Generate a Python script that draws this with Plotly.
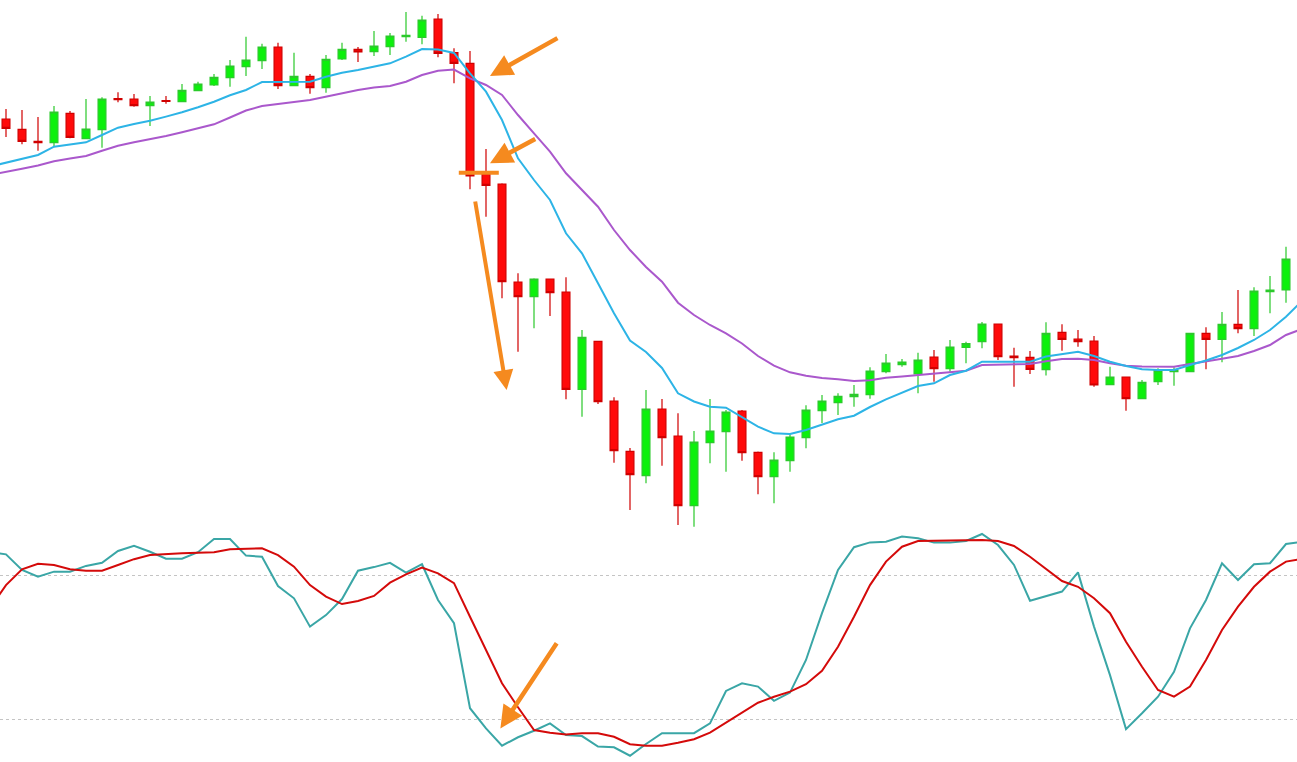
import plotly.graph_objects as go

# ---------------- data ----------------
candle_idx = list(range(81))

opens = [481, 470.7, 458.7, 457.3, 486.7, 461.3, 470.3, 501.3, 501, 494.3,
         499.3, 498.3, 509.3, 515, 522.3, 533.3, 539.3, 553, 514.3, 523.7,
         512.3, 541, 550.7, 548.3, 553.3, 563.3, 562.7, 581, 547.3, 536.7,
         426, 416, 318, 303.3, 321, 308, 210.7, 258.7, 199, 148.7,
         124.3, 191, 164, 94.3, 157.3, 168.3, 189, 147.7, 123.3, 139.3,
         162.3, 189.3, 197.3, 203.3, 205.3, 228.3, 235.3, 226, 243, 231.3,
         252.7, 258.3, 276, 244, 242.7, 230.3, 267.7, 261, 259, 215.3,
         223, 201.3, 218.3, 228.3, 228.3, 266.7, 260.7, 275.7, 271.3, 308.3, 310]

highs = [491, 490, 483, 494, 489, 501, 502.7, 507.7, 506, 504,
         504, 516, 518.3, 526, 540, 563.3, 556.3, 557.3, 547.3, 526,
         545, 557.3, 553, 569, 567, 588, 584.3, 586, 551.7, 549,
         451, 416.7, 326.7, 321.7, 321, 322.7, 270, 258.7, 202.7, 152,
         210, 201, 186.7, 169, 201, 190, 190, 148.5, 147.7, 165.7,
         194.7, 205, 206.7, 215, 232.7, 246, 241, 247.3, 250, 260,
         258.3, 278, 276.5, 252.3, 249, 277.8, 275.7, 270, 264, 233.3,
         223, 220, 231.7, 232.7, 266.7, 272.7, 288, 310, 312.7, 324, 353.3]

lows = [463, 455.7, 449.3, 453.3, 461.7, 461, 452.3, 497.7, 493.3, 474,
        496.3, 497.7, 509.3, 514, 513.3, 524, 531, 511, 514, 506.3,
        507.3, 540, 538, 544, 545, 558.3, 555.7, 542.7, 516.7, 410.7,
        383.3, 301.7, 248.3, 271.7, 284, 200.7, 183.3, 196, 137.3, 90,
        116.7, 134.3, 75, 73.3, 136.7, 128.3, 139.3, 105.7, 96.7, 128.3,
        151.7, 177, 185, 193.3, 201.3, 226.7, 233.3, 206.7, 218.3, 228.3,
        236.7, 251.7, 240, 213.3, 226, 224.5, 249.3, 253.3, 213.3, 215.3,
        189.3, 200.7, 215, 214.3, 228.3, 230.7, 237.7, 266.7, 264, 286.7, 297.3]

closes = [471.7, 458.7, 457.3, 488, 462.7, 471, 501, 500.3, 494.3, 498,
          498.7, 509.7, 516, 522.7, 534, 540, 553, 514.3, 523.7, 512.3,
          540.7, 550.7, 548, 554, 564, 564.7, 580, 546.7, 536.7, 424,
          414.7, 318.3, 303.3, 321, 307.3, 210.7, 262.7, 198.3, 149.3, 125.3,
          191, 162.3, 94.3, 158, 169, 188, 147.3, 123.3, 140, 163,
          190, 199, 203.7, 205.7, 229, 237, 238, 240, 231.3, 253,
          256.3, 276, 243.3, 242.3, 230.7, 266.7, 260.7, 258.3, 215, 223,
          201.3, 217.7, 229.7, 230, 266.7, 260.7, 275.7, 271.3, 309, 310, 341]

# indicator lines run one bar beyond each edge of the view
line_idx = list(range(-1, 82))

ma_fast = [433.5, 437.5, 441.2, 445, 453.3, 455.6, 457.7, 465, 472.3, 476, 479.3,
           483.4, 487.7, 492.8, 498.3, 504.7, 510, 518, 518.3, 518.3, 518.3,
           523.3, 527.2, 530, 533.3, 536.7, 543.3, 551, 550.5, 547, 526.7,
           508.3, 480, 441.7, 420, 400, 366.7, 346.7, 316.7, 286.7, 259.5,
           248, 232, 206.7, 198.5, 193.3, 192.3, 182.7, 173.3, 166.7, 166,
           170, 175.5, 180.7, 184.3, 193, 200.7, 207.3, 214, 216.7, 225,
           229.3, 238.3, 238.3, 238.3, 238.3, 243.5, 246, 248.3, 244, 238.3,
           234, 230.7, 230, 230, 235, 239.5, 245, 252, 260, 270, 283.3, 299]

ma_slow = [425, 428.5, 431.3, 434.5, 438.7, 441.5, 444, 449.3, 454.3, 457.7, 460.7,
           464, 467.7, 471.5, 475.7, 482.5, 489.5, 494, 495.7, 498, 500,
           503.3, 506.7, 510, 512.5, 514, 518.3, 525, 529.3, 530.5, 521.7,
           515, 505, 485, 466.7, 448.3, 426.7, 410, 393.3, 370, 350,
           333, 318.3, 297.3, 285, 275, 266.7, 256.5, 244, 234.3, 227.7,
           224.3, 222, 220.7, 219, 219.7, 222.3, 223.5, 225, 226.5, 228,
           229.3, 235, 235.5, 236, 236, 238.7, 241, 241.3, 240, 236.7,
           234.3, 233.5, 233.3, 233.3, 236, 239, 241.3, 244, 249, 255, 265, 271]

stoch_k = [89.8, 88.8, 82.3, 79.5, 81.6, 81.6, 84.0, 85.3, 90.2, 92.4, 89.9,
           87.0, 87.0, 89.7, 95.2, 95.2, 88.3, 87.8, 75.6, 70.5, 58.7,
           63.5, 70.2, 82.0, 83.5, 85.3, 81.2, 84.7, 69.8, 60.1, 24.7,
           16.3, 9.1, 12.6, 15.3, 18.4, 13.5, 13.1, 8.7, 8.4, 4.9,
           9.8, 14.3, 14.3, 14.3, 18.4, 31.9, 35.1, 33.7, 27.8, 31.2,
           44.8, 64.3, 82.3, 91.8, 93.8, 94.1, 96.2, 95.5, 93.7, 93.7,
           94.4, 97.3, 92.7, 84.4, 69.5, 71.5, 73.3, 81.3, 58.7, 38.5,
           16.0, 22.6, 29.5, 39.9, 58.0, 69.8, 85.1, 78.1, 84.7, 85.1, 93.1, 94.0]

stoch_d = [66.5, 76.0, 82.6, 84.9, 84.4, 82.6, 82.0, 82.0, 84.4, 86.8, 88.5,
           89.0, 89.3, 89.5, 89.7, 90.9, 91.0, 91.3, 88.5, 83.7, 76.0,
           71.2, 68.1, 69.4, 71.5, 77.0, 80.5, 83.3, 80.9, 76.8, 62.8,
           49.0, 35.1, 25.1, 15.6, 14.5, 13.8, 14.3, 14.3, 12.8, 9.7,
           9.1, 9.1, 10.3, 11.8, 14.5, 18.7, 22.8, 27.0, 29.5, 31.6,
           34.7, 40.3, 50.3, 62.8, 76.0, 85.8, 92.0, 94.4, 94.5, 94.5,
           94.5, 94.8, 94.4, 92.3, 87.8, 82.6, 77.7, 75.3, 70.5, 64.3,
           52.4, 42.0, 32.3, 29.5, 33.7, 44.8, 57.3, 67.0, 75.3, 81.6, 85.8, 86.9]

stoch_levels = [80, 20]

# ---------------- styles ----------------
UP_FILL, UP_LINE = "#0CF00C", "#2BC92B"
DN_FILL, DN_LINE = "#FF0A0A", "#D00000"
FAST_C, SLOW_C = "#2DB4E6", "#AA58CC"
K_C, D_C = "#3AA6A6", "#D40A0A"
ARROW_C = "#F58A1F"

fig = go.Figure()

fig.add_trace(go.Candlestick(
    x=candle_idx, open=opens, high=highs, low=lows, close=closes,
    increasing=dict(fillcolor=UP_FILL, line=dict(color=UP_LINE, width=1.2)),
    decreasing=dict(fillcolor=DN_FILL, line=dict(color=DN_LINE, width=1.2)),
    whiskerwidth=0, xaxis="x", yaxis="y", hoverinfo="skip"))

fig.add_trace(go.Scatter(x=line_idx, y=ma_slow, mode="lines",
                         line=dict(color=SLOW_C, width=2), xaxis="x", yaxis="y"))
fig.add_trace(go.Scatter(x=line_idx, y=ma_fast, mode="lines",
                         line=dict(color=FAST_C, width=2), xaxis="x", yaxis="y"))

fig.add_trace(go.Scatter(x=line_idx, y=stoch_k, mode="lines",
                         line=dict(color=K_C, width=2), xaxis="x2", yaxis="y2"))
fig.add_trace(go.Scatter(x=line_idx, y=stoch_d, mode="lines",
                         line=dict(color=D_C, width=2), xaxis="x2", yaxis="y2"))

shapes = []
for lv in stoch_levels:
    shapes.append(dict(type="line", xref="paper", x0=0, x1=1, yref="y2", y0=lv, y1=lv,
                       line=dict(color="#C4C4C4", width=1, dash="3px,3px"), layer="below"))
# short horizontal marker under the big bearish bar
shapes.append(dict(type="line", xref="x", yref="y", x0=28.3, x1=30.8, y0=427.3, y1=427.3,
                   line=dict(color=ARROW_C, width=4)))

def arrow(tail, tip, yref="y", width=4.5):
    return dict(x=tip[0], y=tip[1], ax=tail[0], ay=tail[1], xref="x", yref=yref,
                axref="x", ayref=yref, text="", showarrow=True, arrowhead=2,
                arrowsize=1, arrowwidth=width, arrowcolor=ARROW_C, standoff=0)

annotations = [
    arrow((34.56, 562.7), (30.25, 524.0)),
    arrow((33.17, 461.7), (30.25, 436.7)),
    arrow((29.31, 400.0), (31.29, 210.0), width=4),
    arrow((34.48, 52.4), (30.9, 16.3), yref="y2"),
]

xr = [-0.375, 80.6875]
split = (762 - 530) / 762
fig.update_layout(
    width=1297, height=762, margin=dict(l=0, r=0, t=0, b=0),
    paper_bgcolor="white", plot_bgcolor="white", showlegend=False, hovermode=False,
    xaxis=dict(domain=[0, 1], range=xr, visible=False, rangeslider=dict(visible=False),
               anchor="y"),
    yaxis=dict(domain=[split, 1], range=[70, 600], visible=False, anchor="x"),
    xaxis2=dict(domain=[0, 1], range=xr, visible=False, anchor="y2"),
    yaxis2=dict(domain=[0, split], range=[2.29, 98.96], visible=False, anchor="x2"),
    shapes=shapes, annotations=annotations,
)

fig.write_html("out.html", config={"displayModeBar": False, "staticPlot": True},
               post_script="document.body.style.margin='0';document.body.style.overflow='hidden';")
